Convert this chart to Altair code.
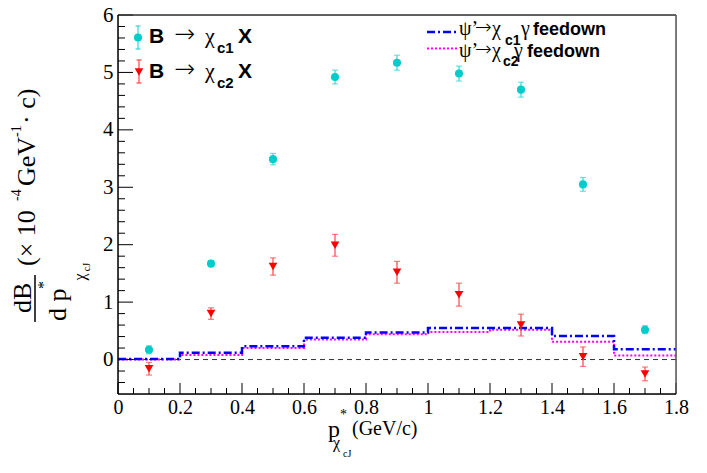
import altair as alt
import pandas as pd

# ---------------- data ----------------
x_centers = [0.1, 0.3, 0.5, 0.7, 0.9, 1.1, 1.3, 1.5, 1.7]
chic1 = [0.17, 1.67, 3.49, 4.92, 5.17, 4.98, 4.70, 3.05, 0.52]
chic1_err = [0.07, 0.05, 0.10, 0.12, 0.13, 0.13, 0.13, 0.12, 0.07]
chic2 = [-0.16, 0.80, 1.62, 1.99, 1.52, 1.13, 0.60, 0.05, -0.25]
chic2_err = [0.11, 0.10, 0.15, 0.19, 0.19, 0.20, 0.19, 0.17, 0.12]

bin_edges = [0.0, 0.2, 0.4, 0.6, 0.8, 1.0, 1.2, 1.4, 1.6, 1.8]
feed_c1 = [0.01, 0.12, 0.23, 0.38, 0.47, 0.55, 0.55, 0.41, 0.18]
feed_c2 = [0.0, 0.08, 0.20, 0.35, 0.44, 0.48, 0.52, 0.31, 0.07]

x_tick_labels = [0, 0.2, 0.4, 0.6, 0.8, 1, 1.2, 1.4, 1.6, 1.8]
y_tick_labels = [0, 1, 2, 3, 4, 5, 6]
x_minor = [round(i * 0.05, 2) for i in range(37) if i % 4 != 0]
y_minor = [round(-0.4 + i * 0.2, 1) for i in range(33)]
y_minor = [v for v in y_minor if abs(v - round(v)) > 1e-6]

# ---------------- frames ----------------
W, H = 558, 379
CYAN = "#00cccc"
RED = "#ff0000"
SERIF = "Liberation Serif"
SANS = "Liberation Sans"
ARROW = "DejaVu Sans"

xs = alt.Scale(domain=[0, 1.8], nice=False, zero=False)
ys = alt.Scale(domain=[-0.6, 6], nice=False, zero=False)

p1 = pd.DataFrame({"x": x_centers, "y": chic1,
                   "lo": [v - e for v, e in zip(chic1, chic1_err)],
                   "hi": [v + e for v, e in zip(chic1, chic1_err)]})
p2 = pd.DataFrame({"x": x_centers, "y": chic2,
                   "lo": [v - e for v, e in zip(chic2, chic2_err)],
                   "hi": [v + e for v, e in zip(chic2, chic2_err)]})
caps1 = pd.DataFrame({"x": x_centers * 2, "y": list(p1["lo"]) + list(p1["hi"])})
caps2 = pd.DataFrame({"x": x_centers * 2, "y": list(p2["lo"]) + list(p2["hi"])})
h1 = pd.DataFrame({"x": bin_edges, "y": feed_c1 + [feed_c1[-1]]})
h2 = pd.DataFrame({"x": bin_edges, "y": feed_c2 + [feed_c2[-1]]})

xaxis = alt.Axis(values=x_tick_labels, format="~g", tickSize=0, domain=False, grid=False,
                 title=None, labelFont=SERIF, labelFontSize=20, labelColor="black",
                 labelPadding=3, labelFlush=False, labelOverlap=False)
yaxis = alt.Axis(values=y_tick_labels, format="~g", tickSize=0, domain=False, grid=False,
                 title=None, labelFont=SERIF, labelFontSize=21, labelColor="black",
                 labelPadding=5, labelOverlap=False)


def X(f):
    return alt.X(f, scale=xs, axis=xaxis)


def Y(f):
    return alt.Y(f, scale=ys, axis=yaxis)


layers = []

# zero dashed line
layers.append(alt.Chart(pd.DataFrame({"y": [0.0]})).mark_rule(
    color="#333", strokeWidth=1, strokeDash=[5, 4]).encode(y=Y("y:Q")))

# feed-down histograms
layers.append(alt.Chart(h2).mark_line(interpolate="step-after", color="#ff00ff",
                                      strokeWidth=2, strokeDash=[2, 2]).encode(
    x=X("x:Q"), y=Y("y:Q")))
layers.append(alt.Chart(h1).mark_line(interpolate="step-after", color="#0000ff",
                                      strokeWidth=2.5, strokeDash=[8, 3, 2, 3]).encode(
    x=X("x:Q"), y=Y("y:Q")))

# error bars
for df, caps, col in [(p1, caps1, "#33d6d6"), (p2, caps2, "#ff4545")]:
    layers.append(alt.Chart(df).mark_rule(color=col, strokeWidth=1.2).encode(
        x=X("x:Q"), y=Y("lo:Q"), y2="hi:Q"))
    layers.append(alt.Chart(caps).mark_tick(color=col, orient="horizontal", size=6, thickness=1.2).encode(
        x=X("x:Q"), y=Y("y:Q")))

layers.append(alt.Chart(p1).mark_point(shape="circle", filled=True, color=CYAN, size=65, opacity=1).encode(
    x=X("x:Q"), y=Y("y:Q")))
layers.append(alt.Chart(p2).mark_point(shape="triangle-down", filled=True, color=RED, size=75, opacity=1).encode(
    x=X("x:Q"), y=Y("y:Q")))

# inward tick marks
layers.append(alt.Chart(pd.DataFrame({"v": y_tick_labels})).mark_rule(color="black", strokeWidth=1).encode(
    y=Y("v:Q"), x=alt.value(0), x2=alt.value(15)))
layers.append(alt.Chart(pd.DataFrame({"v": y_minor})).mark_rule(color="black", strokeWidth=1).encode(
    y=Y("v:Q"), x=alt.value(0), x2=alt.value(7)))
layers.append(alt.Chart(pd.DataFrame({"v": x_tick_labels})).mark_rule(color="black", strokeWidth=1).encode(
    x=X("v:Q"), y=alt.value(H), y2=alt.value(H - 11)))
layers.append(alt.Chart(pd.DataFrame({"v": x_minor})).mark_rule(color="black", strokeWidth=1).encode(
    x=X("v:Q"), y=alt.value(H), y2=alt.value(H - 6)))

one = pd.DataFrame({"k": [0]})


def txt(s, x, y, size, font=SERIF, weight="normal", angle=0, align="left",
        baseline="alphabetic", color="black"):
    return alt.Chart(one).mark_text(text=s, fontSize=size, font=font, fontWeight=weight,
                                    angle=angle, align=align, baseline=baseline,
                                    color=color).encode(x=alt.value(x), y=alt.value(y))


def seg(x1, y1, x2, y2, color, width=1, dash=None):
    kw = dict(color=color, strokeWidth=width)
    if dash:
        kw["strokeDash"] = dash
    return alt.Chart(one).mark_rule(**kw).encode(
        x=alt.value(x1), y=alt.value(y1), x2=alt.value(x2), y2=alt.value(y2))


# frame
layers.append(seg(0, 0, W, 0, "#333", 1.5))
layers.append(seg(W, 0, W, H, "#555", 1.5))
layers.append(seg(0, 0, 0, H, "black", 1.5))
layers.append(seg(0, H, W, H, "black", 1.5))

# left legend
layers.append(seg(20, 11, 20, 34, "#33d6d6", 1.2))
layers.append(seg(17.5, 11, 22.5, 11, "#33d6d6", 1.2))
layers.append(seg(17.5, 34, 22.5, 34, "#33d6d6", 1.2))
layers.append(alt.Chart(one).mark_point(shape="circle", filled=True, color=CYAN, size=65, opacity=1).encode(
    x=alt.value(20), y=alt.value(22.5)))
layers.append(seg(21, 45, 21, 68, "#ff4545", 1.2))
layers.append(seg(18.5, 45, 23.5, 45, "#ff4545", 1.2))
layers.append(seg(18.5, 68, 23.5, 68, "#ff4545", 1.2))
layers.append(alt.Chart(one).mark_point(shape="triangle-down", filled=True, color=RED, size=75, opacity=1).encode(
    x=alt.value(21), y=alt.value(57)))
for row, sub in [(0, "c1"), (35, "c2")]:
    layers.append(txt("B", 31, 28 + row, 21, SANS, "bold"))
    layers.append(txt("\u2192", 56, 27 + row, 25, ARROW, 200))
    layers.append(txt("\u03c7", 87, 28 + row, 22))
    layers.append(txt(sub, 99, 38 + row, 15, SANS, "bold"))
    layers.append(txt("X", 120, 28 + row, 21, SANS, "bold"))

# right legend
layers.append(seg(309, 17, 340, 17, "#0000ff", 2.5, [8, 3, 2, 3]))
layers.append(seg(309, 33.5, 340, 33.5, "#ff00ff", 2, [2, 2]))
for yb in [20, 41.5]:
    layers.append(txt("\u03c8\u2019", 341, yb, 20))
    layers.append(txt("\u2192", 357, yb - 1, 20, ARROW, 200))
    layers.append(txt("\u03c7", 374, yb, 20))
layers.append(txt("c1", 387, 30, 14, SANS, "bold"))
layers.append(txt("\u03b3", 403, 20, 20))
layers.append(txt("feedown", 415, 20, 18, SANS, "bold"))
layers.append(txt("c2", 385, 51, 14, SANS, "bold"))
layers.append(txt("\u03b3", 396, 41.5, 20))
layers.append(txt("feedown", 409, 41.5, 18, SANS, "bold"))

# x title
layers.append(txt("p", 210, 422, 24))
layers.append(txt("*", 222, 404, 14))
layers.append(txt("\u03c7", 215, 433, 16))
layers.append(txt("cJ", 225, 442, 10))
layers.append(txt("(GeV/c)", 234, 420, 20))

# y title (rotated)
layers.append(txt("dB", -87, 298, 26, angle=270))
layers.append(seg(-83, 260, -83, 307, "black", 1.5))
layers.append(txt("d p", -52, 306, 26, angle=270))
layers.append(txt("*", -74, 270, 16, angle=270, align="center", baseline="middle"))
layers.append(txt("\u03c7", -38, 262, 16, angle=270, align="center", baseline="middle"))
layers.append(txt("cJ", -31, 252, 10, angle=270, align="center", baseline="middle"))
layers.append(txt("(\u00d7 10", -83, 251, 26, angle=270))
layers.append(txt("-4", -97, 186, 14, angle=270))
layers.append(txt("GeV", -83, 171, 26, angle=270))
layers.append(txt("-1", -97, 122, 14, angle=270))
layers.append(txt(" \u00b7 c)", -83, 109, 26, angle=270))

chart = alt.layer(*layers).properties(
    width=W, height=H,
    padding={"left": 110, "top": 7, "right": 23, "bottom": 71},
    autosize=alt.AutoSizeParams(type="none"),
).configure_view(stroke=None).configure(background="white")

chart.save("out.html", embed_options={"renderer": "svg", "actions": False})
